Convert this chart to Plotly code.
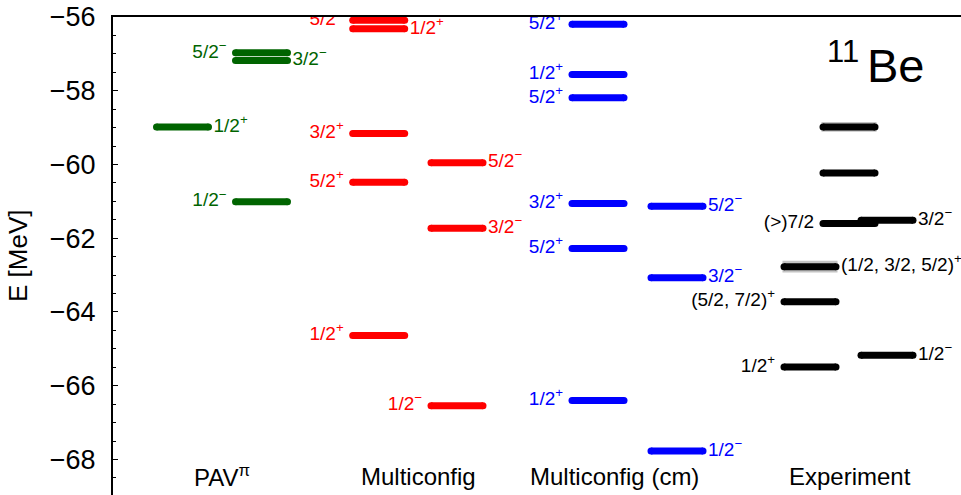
import plotly.graph_objects as go

# ---------------- data ----------------
pav_E = [-56.97, -57.18, -58.98, -61.01]
pav_col = ["R", "R", "L", "R"]
pav_lab = ["5/2<sup>−</sup>", "3/2<sup>−</sup>", "1/2<sup>+</sup>", "1/2<sup>−</sup>"]
pav_side = ["left", "right", "right", "left"]

mc_E = [-56.09, -56.32, -59.16, -60.48, -59.95, -61.73, -64.64, -66.54]
mc_col = ["L", "L", "L", "L", "R", "R", "L", "R"]
mc_lab = ["5/2<sup>+</sup>", "1/2<sup>+</sup>", "3/2<sup>+</sup>", "5/2<sup>+</sup>",
          "5/2<sup>−</sup>", "3/2<sup>−</sup>", "1/2<sup>+</sup>", "1/2<sup>−</sup>"]
mc_side = ["left", "right", "left", "left", "right", "right", "left", "left"]

cm_E = [-56.20, -57.56, -58.19, -61.06, -61.13, -62.28, -63.07, -66.40, -67.77]
cm_col = ["L", "L", "L", "L", "R", "L", "R", "L", "R"]
cm_lab = ["5/2<sup>+</sup>", "1/2<sup>+</sup>", "5/2<sup>+</sup>", "3/2<sup>+</sup>",
          "5/2<sup>−</sup>", "5/2<sup>+</sup>", "3/2<sup>−</sup>", "1/2<sup>+</sup>",
          "1/2<sup>−</sup>"]
cm_side = ["left", "left", "left", "left", "right", "left", "right", "left", "right"]

exp_E = [-58.98, -60.23, -61.60, -61.51, -62.77, -63.72, -65.49, -65.17]
exp_col = ["M", "M", "M", "R", "L", "L", "L", "R"]
exp_lab = ["", "", "(>)7/2", "3/2<sup>−</sup>", "(1/2, 3/2, 5/2)<sup>+</sup>",
           "(5/2, 7/2)<sup>+</sup>", "1/2<sup>+</sup>", "1/2<sup>−</sup>"]
exp_side = ["", "", "left", "right", "right", "left", "left", "right"]
exp_width = [0.26, 0, 0, 0, 0.32, 0, 0, 0]

group_names = ["PAV<sup>π</sup>", "Multiconfig", "Multiconfig (cm)", "Experiment"]

# ---------------- layout config ----------------
COLX = {
    "pav": {"L": 69.5, "R": 148.5},
    "mc": {"L": 265.7, "R": 344.0},
    "cm": {"L": 485.0, "R": 564.0},
    "exp": {"L": 697.0, "M": 736.0, "R": 774.0},
}
GROUP_LABEL_X = [109, 305, 501, 737]
HALF = 26.0
LW = 7
FONT = "Liberation Sans, Arial, Helvetica, sans-serif"

fig = go.Figure()


def add_levels(E, cols, labels, sides, group, color, widths=None):
    tx, ty, tt, tp = [], [], [], []
    for i, (e, c, lab, s) in enumerate(zip(E, cols, labels, sides)):
        xc = COLX[group][c]
        if widths is not None and widths[i] > 0:
            fig.add_shape(type="rect", xref="x", yref="y",
                          x0=xc - HALF - 1.5, x1=xc + HALF + 1.5,
                          y0=e - widths[i] / 2, y1=e + widths[i] / 2,
                          fillcolor="#c4c4c4", line=dict(width=0), layer="below")
        fig.add_trace(go.Scatter(
            x=[xc - HALF, xc + HALF], y=[e, e], mode="lines+markers",
            line=dict(color=color, width=LW),
            marker=dict(size=LW, color=color, line=dict(width=0)),
            hoverinfo="skip", showlegend=False, cliponaxis=False))
        if lab:
            if s == "left":
                tx.append(xc - HALF - 9)
                tp.append("middle left")
            else:
                tx.append(xc + HALF + 5)
                tp.append("middle right")
            ty.append(e)
            tt.append(lab)
    fig.add_trace(go.Scatter(
        x=tx, y=ty, text=tt, mode="text", textposition=tp,
        textfont=dict(family=FONT, size=19, color=color),
        hoverinfo="skip", showlegend=False, cliponaxis=True))


add_levels(pav_E, pav_col, pav_lab, pav_side, "pav", "#006400")
add_levels(mc_E, mc_col, mc_lab, mc_side, "mc", "#ff0000")
add_levels(cm_E, cm_col, cm_lab, cm_side, "cm", "#0000ff")
add_levels(exp_E, exp_col, exp_lab, exp_side, "exp", "#000000", widths=exp_width)

for name, gx in zip(group_names, GROUP_LABEL_X):
    fig.add_annotation(x=gx, y=-68.45, xref="x", yref="y", text=name,
                       showarrow=False, xanchor="center", yanchor="middle",
                       font=dict(family=FONT, size=24, color="black"))

# 11Be tag
fig.add_annotation(x=1.0, y=1.0, xref="paper", yref="paper", text="Be",
                   showarrow=False, xanchor="left", yanchor="top",
                   xshift=-96, yshift=-20,
                   font=dict(family=FONT, size=47, color="black"))
fig.add_annotation(x=1.0, y=1.0, xref="paper", yref="paper", text="11",
                   showarrow=False, xanchor="left", yanchor="top",
                   xshift=-136, yshift=-15,
                   font=dict(family=FONT, size=31, color="black"))

# y-axis title
fig.add_annotation(x=0, y=0.5, xref="paper", yref="paper", text="E [MeV]",
                   textangle=-90, showarrow=False, xanchor="center",
                   yanchor="middle", xshift=-95,
                   font=dict(family=FONT, size=26, color="black"))

fig.update_layout(
    width=961, height=495,
    margin=dict(l=113, r=0, t=17, b=0),
    paper_bgcolor="white", plot_bgcolor="white",
    xaxis=dict(range=[0, 848], side="top", showline=True, linecolor="black",
               linewidth=2, showticklabels=False, ticks="", showgrid=False,
               zeroline=False, fixedrange=True),
    yaxis=dict(range=[-68.963, -56], showline=True, linecolor="black",
               linewidth=2, ticks="inside", ticklen=5, tickwidth=1,
               tickcolor="black", dtick=2, tick0=-56, showgrid=False,
               zeroline=False, ticklabelstandoff=10,
               tickfont=dict(family=FONT, size=27, color="black"),
               minor=dict(dtick=0.5, tick0=-56, ticks="inside", ticklen=3,
                          tickwidth=1, tickcolor="black", showgrid=False)),
    showlegend=False,
)

fig.write_html("out.html")
